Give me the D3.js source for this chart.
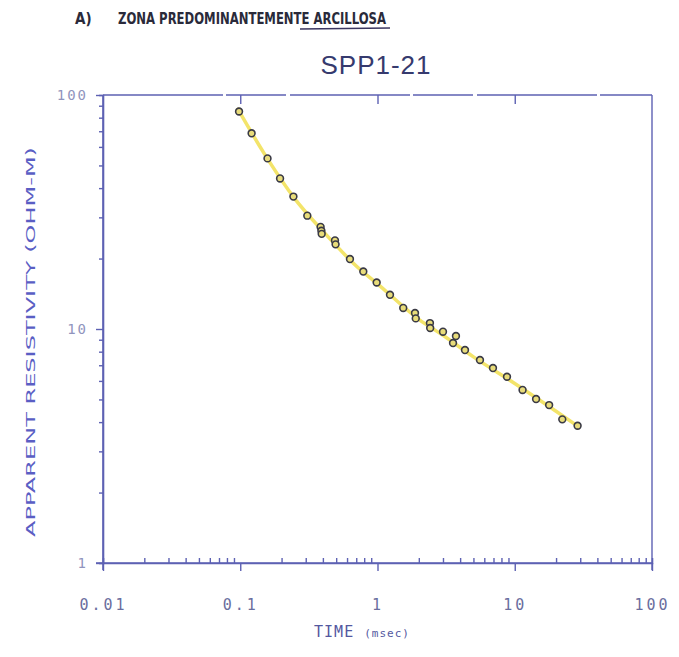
<!DOCTYPE html>
<html>
<head>
<meta charset="utf-8">
<script src="https://cdn.jsdelivr.net/npm/d3@7"></script>
<style>
  body { margin: 0; background: #fff; }
  svg { display: block; }
</style>
</head>
<body>
<svg id="chart" width="679" height="657"></svg>
<script>
// Datos: tiempo (msec) y resistividad aparente (ohm-m)
var tiempos = [0.098, 0.121, 0.158, 0.195, 0.244, 0.308, 0.385, 0.39, 0.392, 0.49, 0.495,
               0.63, 0.788, 0.986, 1.233, 1.54, 1.876, 1.9, 2.41, 2.42, 3.0, 3.55, 3.73,
               4.34, 5.58, 6.94, 8.78, 11.4, 14.3, 17.8, 22.2, 28.7];
var resistividad = [85, 68.6, 53.6, 44.0, 36.8, 30.5, 27.3, 26.3, 25.5, 23.9, 23.0,
                    19.9, 17.6, 15.8, 14.0, 12.3, 11.7, 11.1, 10.6, 10.1, 9.74, 8.71, 9.33,
                    8.13, 7.37, 6.81, 6.25, 5.49, 5.02, 4.73, 4.11, 3.86];

// Curva del modelo (linea amarilla)
var tiemposModelo = [0.095, 0.15, 0.25, 0.4, 0.7, 1, 2, 3, 5, 10, 20, 30];
var resistModelo  = [88, 56, 36, 26.2, 18.6, 15.6, 11.0, 9.4, 7.6, 5.85, 4.45, 3.78];

var ticksX = [0.01, 0.1, 1, 10, 100];
var etiquetasX = ["0.01", "0.1", "1", "10", "100"];
var ticksY = [1, 10, 100];
var etiquetasY = ["1", "10", "100"];

var svg = d3.select("#chart");
var colorEje = "#5d61b3";

var x = d3.scaleLog().domain([0.01, 100]).range([103, 652]);
var y = d3.scaleLog().domain([1, 100]).range([563, 95]);

// ticks menores (2..9 de cada decada)
var menoresX = [];
[0.01, 0.1, 1, 10].forEach(function(d) {
    for (var k = 2; k <= 9; k++) menoresX.push(d * k);
});
var menoresY = [];
[1, 10].forEach(function(d) {
    for (var k = 2; k <= 9; k++) menoresY.push(d * k);
});

// Titulos
svg.append("text")
    .attr("x", 75).attr("y", 24)
    .attr("font-family", "DejaVu Sans Condensed, DejaVu Sans")
    .attr("font-weight", "bold")
    .attr("font-size", 15)
    .attr("fill", "#2a2a3a")
    .text("A)");
svg.append("text")
    .attr("x", 118).attr("y", 24)
    .attr("font-family", "DejaVu Sans Condensed, DejaVu Sans")
    .attr("font-weight", "bold")
    .attr("font-size", 15)
    .attr("fill", "#2a2a3a")
    .attr("textLength", 268)
    .attr("lengthAdjust", "spacingAndGlyphs")
    .text("ZONA PREDOMINANTEMENTE ARCILLOSA");
svg.append("line")
    .attr("x1", 300).attr("x2", 390)
    .attr("y1", 29).attr("y2", 28)
    .attr("stroke", "#3a3560").attr("stroke-width", 1.5);

svg.append("text")
    .attr("x", 376).attr("y", 74)
    .attr("text-anchor", "middle")
    .attr("font-family", "Liberation Sans, Arial")
    .attr("font-size", 26)
    .attr("fill", "#363a6e")
    .attr("letter-spacing", 1)
    .text("SPP1-21");

// Marco del grafico
var marco = svg.append("g");
marco.append("line").attr("x1", 103).attr("x2", 652).attr("y1", 95).attr("y2", 95)
    .attr("stroke", colorEje).attr("stroke-width", 1.6).attr("stroke-dasharray", "120,3,60,4");
marco.append("line").attr("x1", 652).attr("x2", 652).attr("y1", 95).attr("y2", 570)
    .attr("stroke", colorEje).attr("stroke-width", 1.4);

// Eje X
var ejeX = svg.append("g")
    .attr("transform", "translate(0,563)")
    .call(d3.axisBottom(x).tickValues(ticksX)
        .tickFormat(function(d, i) { return etiquetasX[i]; })
        .tickSize(8).tickPadding(28));
var ejeXMenor = svg.append("g")
    .attr("transform", "translate(0,563)")
    .call(d3.axisTop(x).tickValues(menoresX).tickFormat("").tickSize(5));
var ejeXArriba = svg.append("g")
    .attr("transform", "translate(0,95)")
    .call(d3.axisBottom(x).tickValues([0.1, 1, 10]).tickFormat("").tickSize(9));

// Eje Y
var ejeY = svg.append("g")
    .attr("transform", "translate(103,0)")
    .call(d3.axisLeft(y).tickValues(ticksY)
        .tickFormat(function(d, i) { return etiquetasY[i]; })
        .tickSize(7).tickPadding(8));
var ejeYMenor = svg.append("g")
    .attr("transform", "translate(103,0)")
    .call(d3.axisLeft(y).tickValues(menoresY).tickFormat("").tickSize(4));

[ejeX, ejeXMenor, ejeXArriba, ejeY, ejeYMenor].forEach(function(g) {
    g.select(".domain").attr("stroke", colorEje).attr("stroke-width", 1.6);
    g.selectAll(".tick line").attr("stroke", colorEje).attr("stroke-width", 1.4);
});
ejeXArriba.select(".domain").remove();
ejeX.select(".domain").attr("d", "M96,0H652");
ejeY.select(".domain").attr("d", "M0,95V570");

ejeX.selectAll(".tick text")
    .attr("font-family", "DejaVu Sans Mono")
    .attr("font-size", 15)
    .attr("letter-spacing", 3)
    .attr("fill", "#6a6e9e");
ejeY.selectAll(".tick text")
    .attr("font-family", "DejaVu Sans Mono")
    .attr("font-size", 14)
    .attr("letter-spacing", 2)
    .attr("fill", "#9094bd");

// Titulos de ejes
svg.append("text")
    .attr("x", 362).attr("y", 637)
    .attr("text-anchor", "middle")
    .attr("font-family", "DejaVu Sans Mono")
    .attr("fill", "#5458a0")
    .attr("letter-spacing", 1)
    .html('<tspan font-size="15">TIME </tspan><tspan font-size="11">(msec)</tspan>');

svg.append("text")
    .attr("transform", "translate(35,342) rotate(-90)")
    .attr("text-anchor", "middle")
    .attr("font-family", "DejaVu Sans")
    .attr("font-size", 13)
    .attr("fill", "#5a5ec4")
    .attr("textLength", 390)
    .attr("lengthAdjust", "spacingAndGlyphs")
    .text("APPARENT RESISTIVITY (OHM-M)");

// Curva del modelo
var modelo = tiemposModelo.map(function(t, i) { return [t, resistModelo[i]]; });
var linea = d3.line()
    .x(function(d) { return x(d[0]); })
    .y(function(d) { return y(d[1]); })
    .curve(d3.curveMonotoneX);

svg.append("path")
    .datum(modelo)
    .attr("d", linea)
    .attr("fill", "none")
    .attr("stroke", "#f3e46a")
    .attr("stroke-width", 3.5);

// Puntos medidos
var puntos = tiempos.map(function(t, i) { return { t: t, r: resistividad[i] }; });
svg.selectAll(".punto")
    .data(puntos)
    .enter().append("circle")
    .attr("class", "punto")
    .attr("cx", function(d) { return x(d.t); })
    .attr("cy", function(d) { return y(d.r); })
    .attr("r", 3.4)
    .attr("fill", "#e8dc7a")
    .attr("stroke", "#3a3a45")
    .attr("stroke-width", 1.6);
</script>
</body>
</html>
